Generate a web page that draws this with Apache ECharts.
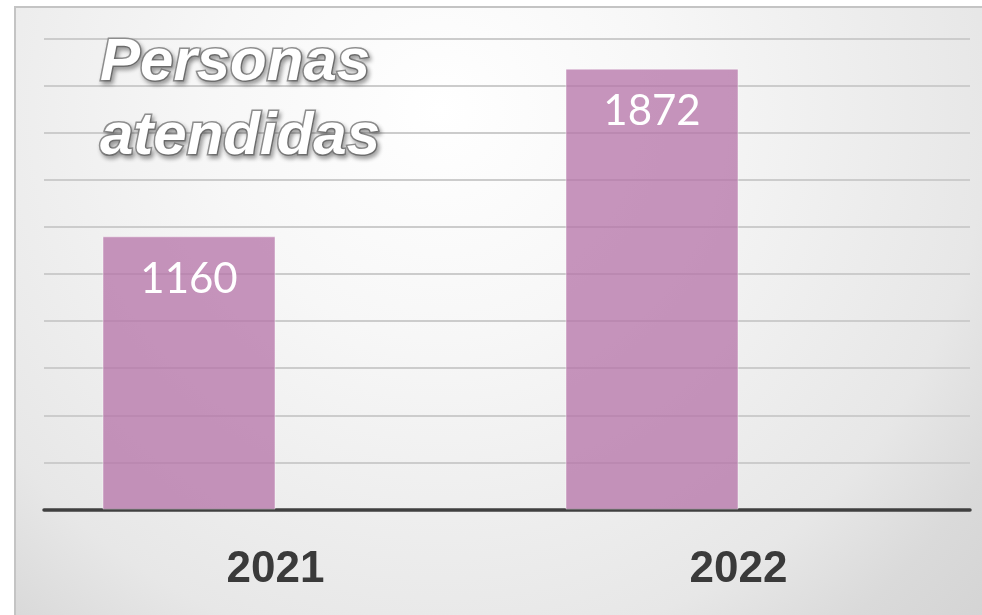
<!DOCTYPE html>
<html>
<head>
<meta charset="utf-8">
<script src="https://cdn.jsdelivr.net/npm/echarts@6/dist/echarts.min.js"></script>
<style>
  html, body { margin: 0; padding: 0; background: #fff; }
  #chart { width: 982px; height: 615px; }
</style>
</head>
<body>
<div id="chart"></div>
<script>
// datos
var years = ['2021', '2022'];
var atendidas = [1160, 1872];
var vacia = [null, null]; // serie vacía del gráfico original (desplaza las barras)
var yTicks = [0, 200, 400, 600, 800, 1000, 1200, 1400, 1600, 1800, 2000];

var chart = echarts.init(document.getElementById('chart'));

chart.setOption({
    animation: false,
    graphic: [
        {
            type: 'rect',
            z: -100,
            silent: true,
            shape: { x: 15, y: 7, width: 990, height: 620 },
            style: {
                fill: {
                    type: 'radial', x: 440, y: 110, r: 760, global: true,
                    colorStops: [
                        { offset: 0, color: '#ffffff' },
                        { offset: 0.3, color: '#f7f7f7' },
                        { offset: 0.72, color: '#e7e7e7' },
                        { offset: 0.86, color: '#dadada' },
                        { offset: 1, color: '#d3d3d3' }
                    ]
                },
                stroke: '#c4c4c4',
                lineWidth: 2
            }
        }
    ],
    title: {
        text: 'Personas\natendidas',
        left: 95,
        top: 21,
        textStyle: {
            fontFamily: 'Liberation Sans',
            fontStyle: 'italic',
            fontWeight: 'bold',
            fontSize: 60,
            lineHeight: 74,
            color: '#ffffff',
            textBorderColor: '#8f8f8f',
            textBorderWidth: 3,
            textShadowColor: 'rgba(0,0,0,0.3)',
            textShadowBlur: 4,
            textShadowOffsetX: 2,
            textShadowOffsetY: 3
        }
    },
    grid: { left: 44, right: 12, top: 38.5, bottom: 105.5 },
    xAxis: {
        type: 'category',
        data: years,
        axisLine: { lineStyle: { color: '#404040', width: 3.5 } },
        axisTick: { show: false },
        axisLabel: {
            margin: 38,
            fontFamily: 'Liberation Sans',
            fontWeight: 'bold',
            fontSize: 44,
            color: '#3a3a3a'
        }
    },
    yAxis: {
        type: 'value',
        min: yTicks[0],
        max: yTicks[yTicks.length - 1],
        interval: yTicks[1] - yTicks[0],
        axisLine: { show: false },
        axisTick: { show: false },
        axisLabel: { show: false },
        splitLine: { lineStyle: { color: '#cccccc', width: 2 } }
    },
    series: [
        {
            name: 'Personas atendidas',
            type: 'bar',
            data: atendidas,
            barWidth: 173,
            barGap: '0%',
            itemStyle: {
                color: 'rgba(182,116,168,0.76)',
                borderColor: 'rgba(255,255,255,0.45)',
                borderWidth: 1
            },
            label: {
                show: true,
                position: 'insideTop',
                distance: 22,
                fontFamily: 'Lato',
                fontSize: 42,
                color: '#ffffff'
            }
        },
        {
            name: '',
            type: 'bar',
            data: vacia,
            barWidth: 173,
            barGap: '0%'
        }
    ]
});
</script>
</body>
</html>
